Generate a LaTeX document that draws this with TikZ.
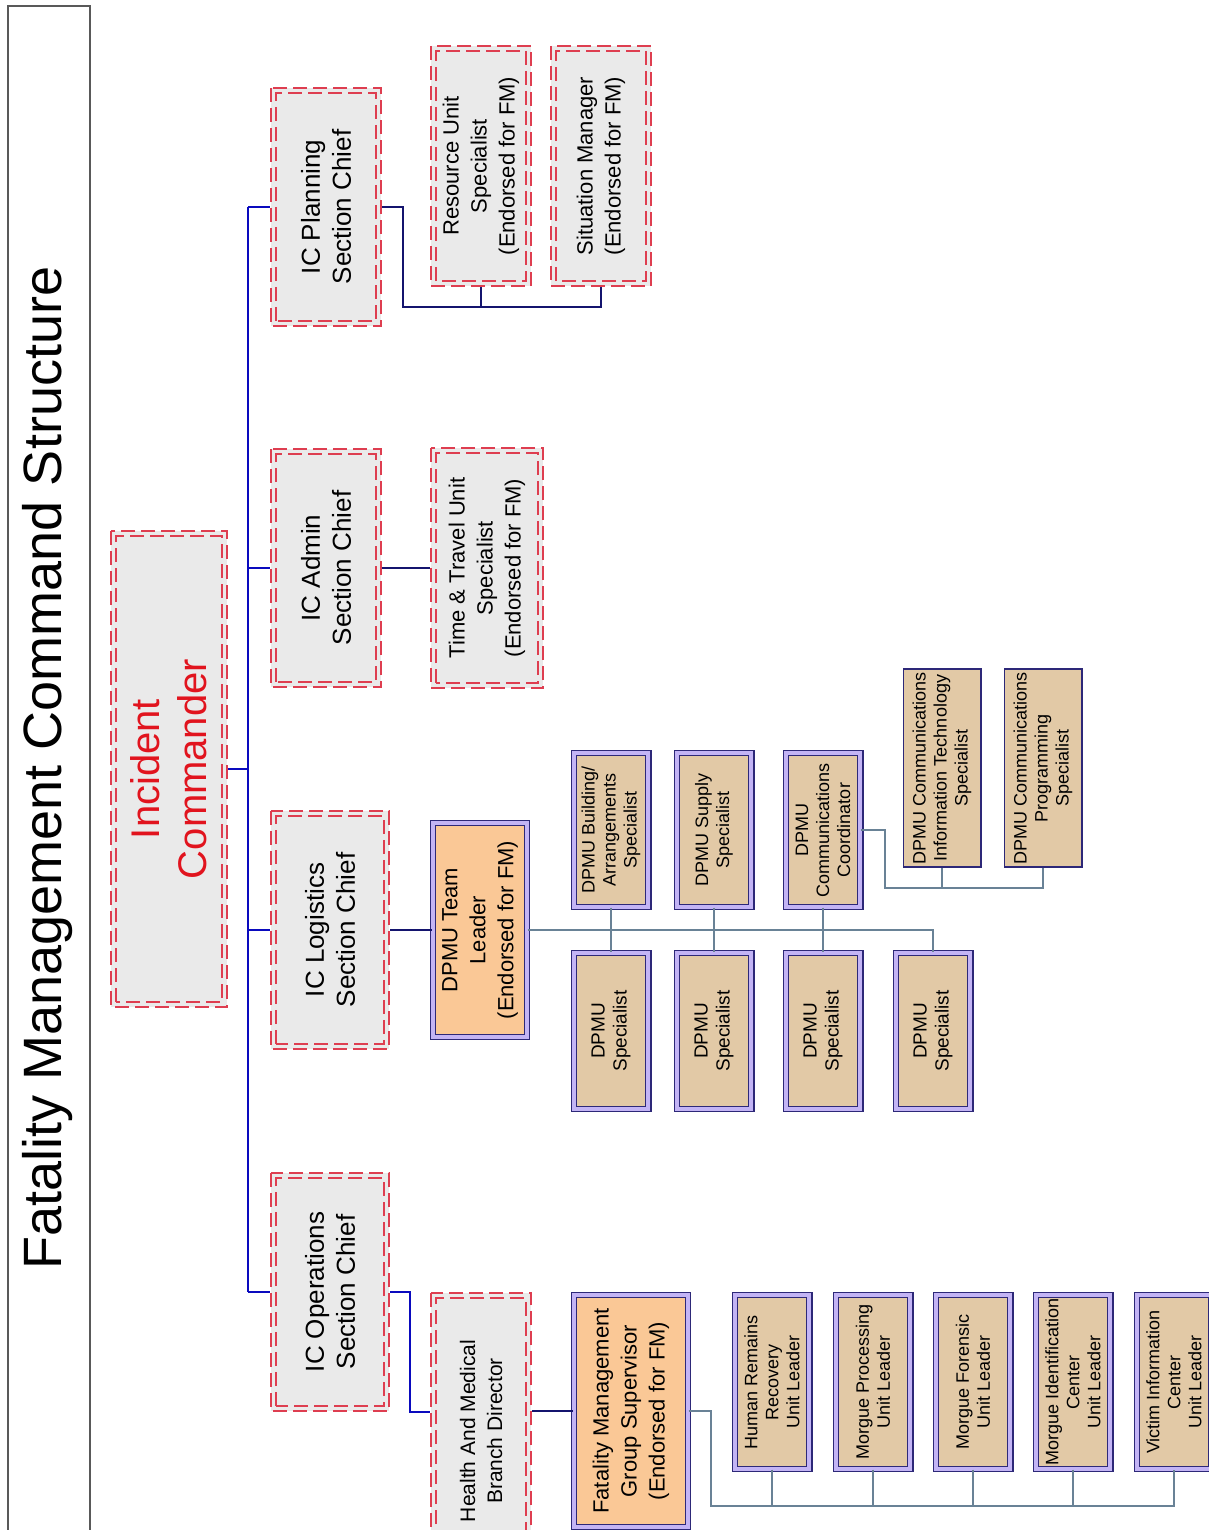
\documentclass[tikz,border=0pt]{standalone}
\usepackage{fontspec}
\setmainfont{Liberation Sans}
\usetikzlibrary{calc}

\definecolor{boxred}{RGB}{222,62,80}
\definecolor{boxgray}{RGB}{234,234,234}
\definecolor{icred}{RGB}{225,20,30}
\definecolor{spineblue}{RGB}{10,10,190}
\definecolor{linknavy}{RGB}{20,20,110}
\definecolor{linksteel}{RGB}{105,130,150}
\definecolor{boxnavy}{RGB}{45,40,120}
\definecolor{boxlav}{RGB}{195,180,245}
\definecolor{boxtan}{RGB}{226,201,166}
\definecolor{boxpeach}{RGB}{250,200,150}

\tikzset{
  x=0.5pt, y=-0.5pt,
  redline/.style={draw=boxred, line width=1pt, dash pattern=on 7pt off 3pt},
  grayred/.style={rotate=90, align=center, fill=boxgray, redline, inner sep=2pt},
  chief/.style={grayred, font=\fontsize{13}{15.5}\selectfont, minimum width=119pt},
  aide/.style={grayred, font=\fontsize{11}{14}\selectfont},
  navyframe/.style={rotate=90, align=center, draw=boxnavy, line width=0.6pt,
    double=boxlav, double distance=2pt, inner sep=1pt},
  lead/.style={navyframe, fill=boxpeach, font=\fontsize{11}{14}\selectfont},
  dpmu/.style={navyframe, fill=boxtan, font=\fontsize{9}{10.5}\selectfont, minimum height=37.3pt},
  comms/.style={rotate=90, align=center, draw=boxnavy, line width=0.8pt, fill=boxtan,
    font=\fontsize{9}{10.5}\selectfont, minimum height=38.7pt, minimum width=99pt, inner sep=1pt},
  bline/.style={spineblue, line width=1.2pt},
  nline/.style={linknavy, line width=1pt},
  tline/.style={linksteel, line width=0.6pt},
}

\begin{document}
\begin{tikzpicture}
  %%%%% START %%%%%
  \useasboundingbox (0,0) rectangle (1209,1530);
  \clip (0,0) rectangle (1209,1530);

  % title strip
  \draw[black!65, line width=0.8pt] (8,6) rectangle (90,1545);
  \node[rotate=90, font=\fontsize{27}{30}\selectfont] (title) at (48,768) {Fatality Management Command Structure};

  % commander and section chiefs
  \node[grayred, font=\fontsize{20}{23.5}\selectfont, text=icred, minimum width=238pt, minimum height=58pt] (ic) at (169,769) {Incident\\Commander};
  \node[chief, minimum height=55pt] (plan) at (326,207) {IC Planning\\Section Chief};
  \node[chief, minimum height=55pt] (admin) at (326,568) {IC Admin\\Section Chief};
  \node[chief, minimum height=59pt] (logi) at (330,930) {IC Logistics\\Section Chief};
  \node[chief, minimum height=59pt] (ops) at (330,1292) {IC Operations\\Section Chief};

  % planning / admin units
  \node[aide, minimum width=120pt, minimum height=50pt] (resu) at (481,166) {Resource Unit\\Specialist\\(Endorsed for FM)};
  \node[aide, minimum width=120pt, minimum height=50pt] (situ) at (601,166) {Situation Manager\\(Endorsed for FM)};
  \node[aide, minimum width=120pt, minimum height=56pt] (ttu) at (487,568) {Time \& Travel Unit\\Specialist\\(Endorsed for FM)};

  % logistics: DPMU team
  \node[lead, minimum width=107pt, minimum height=47pt] (dtl) at (480,930) {DPMU Team\\Leader\\(Endorsed for FM)};
  \node[dpmu, minimum width=77pt] (bldg) at (611,830) {DPMU Building/\\Arrangements\\Specialist};
  \node[dpmu, minimum width=77pt] (supl) at (714,830) {DPMU Supply\\Specialist};
  \node[dpmu, minimum width=77pt] (comc) at (823,830) {DPMU\\Communications\\Coordinator};
  \node[comms] (cit) at (942,768) {DPMU Communications\\Information Technology\\Specialist};
  \node[comms] (cprog) at (1043,768) {DPMU Communications\\Programming\\Specialist};
  \foreach \i/\x in {1/611,2/714,3/823,4/933}
    \node[dpmu, minimum width=78pt, font=\fontsize{9.5}{11}\selectfont] (spec\i) at (\x,1031) {DPMU\\Specialist};

  % operations: fatality management
  \node[aide, font=\fontsize{10.5}{13.5}\selectfont, minimum width=138pt, minimum height=50pt] (hmb) at (481,1431) {Health And Medical\\Branch Director};
  \node[lead, minimum width=116pt, minimum height=57pt] (fmgs) at (631,1411) {Fatality Management\\Group Supervisor\\(Endorsed for FM)};
  \node[dpmu, minimum width=87pt] (hrr) at (772,1382) {Human Remains\\Recovery\\Unit Leader};
  \node[dpmu, minimum width=87pt] (mpu) at (873,1382) {Morgue Processing\\Unit Leader};
  \node[dpmu, minimum width=87pt] (mfu) at (973,1382) {Morgue Forensic\\Unit Leader};
  \node[dpmu, minimum width=87pt] (micu) at (1073,1382) {Morgue Identification\\Center\\Unit Leader};
  \node[dpmu, minimum width=87pt] (vicu) at (1174,1382) {Victim Information\\Center\\Unit Leader};

  % inner dashed outline of the gray boxes
  \foreach \n in {ic,plan,admin,logi,ops,resu,situ,ttu,hmb}
    \draw[redline] ($(\n.north west)+(3pt,3pt)$) rectangle ($(\n.south east)-(3pt,3pt)$);

  % spine
  \coordinate (sp) at (248,0);
  \draw[bline] (ic.south) -- (ic.south -| sp);
  \draw[bline] (plan.north -| sp) -- (ops.north -| sp);
  \foreach \n in {plan,admin,logi,ops}
    \draw[bline] (\n.north -| sp) -- (\n.north);

  % planning links
  \coordinate (pj) at (403,307);
  \draw[nline] (plan.south) -| (pj) -| (situ.west);
  \draw[nline] (resu.west) -- (resu.west |- pj);

  % admin / logistics links
  \draw[nline] (admin.south) -- (ttu.north);
  \draw[nline] (logi.south) -- (dtl.north);

  % DPMU team links
  \draw[tline] (dtl.south) -| (spec4.east);
  \draw[tline] (bldg.west) -- (spec1.east);
  \draw[tline] (supl.west) -- (spec2.east);
  \draw[tline] (comc.west) -- (spec3.east);
  \coordinate (cj) at (885,888);
  \draw[tline] (comc.south) -| (cj) -| (cprog.west);
  \draw[tline] (cit.west) -- (cit.west |- cj);

  % operations links
  \coordinate (oj) at (410,1412);
  \draw[bline] (ops.south) -| (oj) -- (oj -| hmb.north);
  \draw[nline] (fmgs.north -| hmb.south) -- (fmgs.north);
  \coordinate (uj) at (711,1506);
  \draw[tline] (fmgs.south) -| (uj) -| (vicu.west);
  \foreach \u in {hrr,mpu,mfu,micu}
    \draw[tline] (\u.west) -- (\u.west |- uj);
  %%%%% END %%%%%
\end{tikzpicture}
\end{document}
